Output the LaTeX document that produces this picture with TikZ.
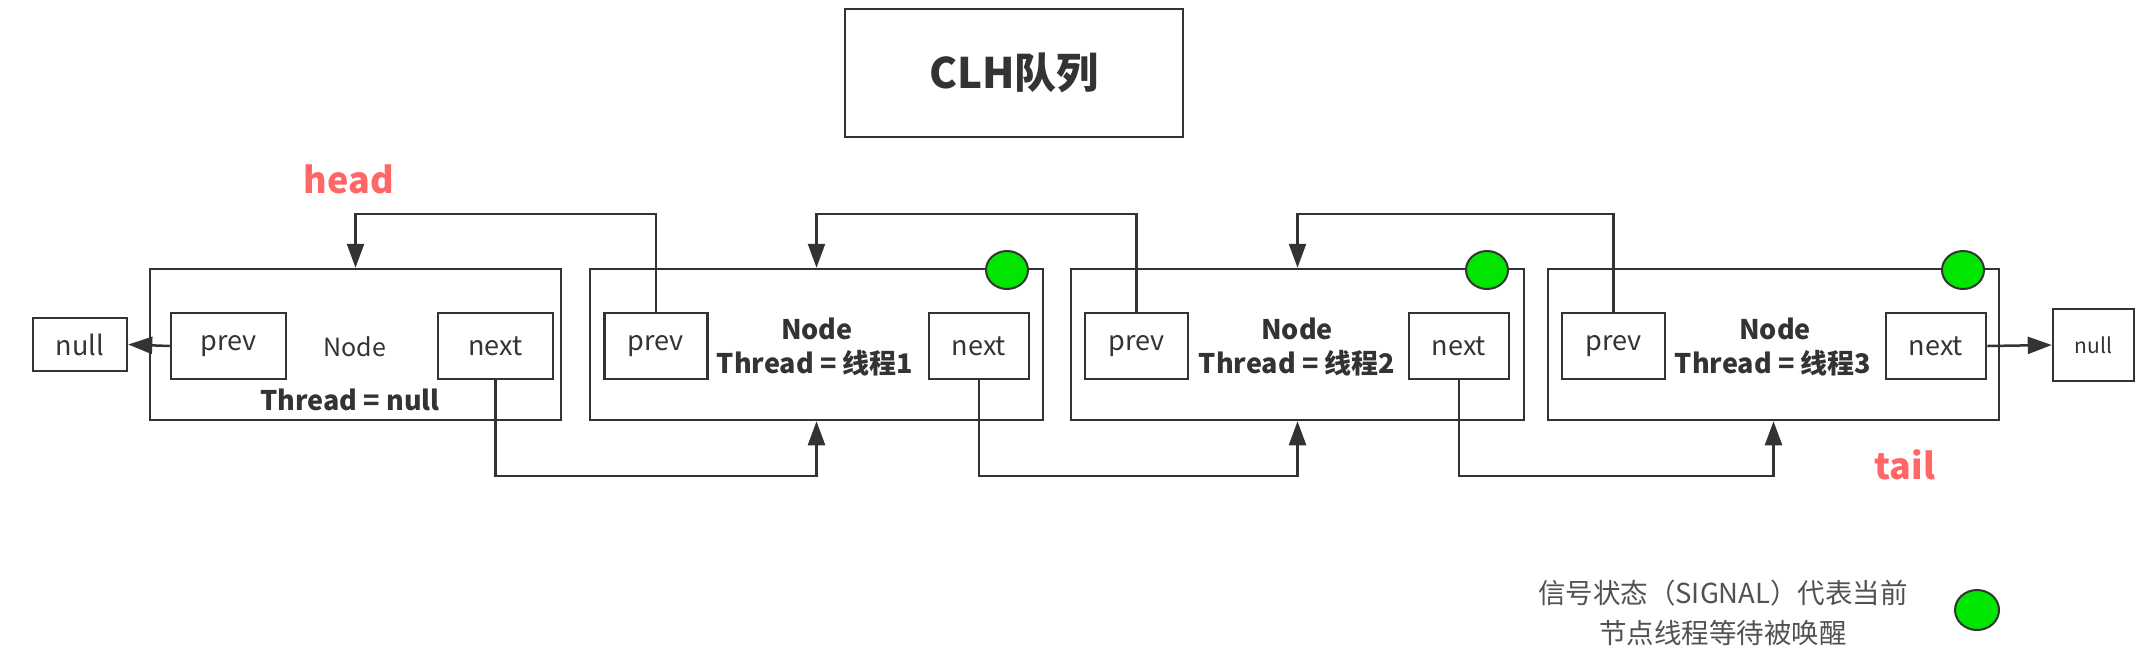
\documentclass[tikz,border=0pt]{standalone}
\usepackage{fontspec}
\setmainfont{Noto Sans CJK SC}
\usetikzlibrary{arrows.meta,shapes.geometric}
\definecolor{ink}{HTML}{333333}
\definecolor{lbl}{HTML}{FF6666}
\definecolor{siggreen}{RGB}{0,230,0}
\tikzset{
  box/.style={draw=ink, line width=2.5pt, rectangle, inner sep=0pt},
  nodebox/.style={box, minimum height=151pt},
  fieldbox/.style={box, minimum height=66pt, text=ink, font=\fontsize{27}{30}\selectfont},
  nullbox/.style={box, text=ink},
  conn/.style={draw=ink, line width=2.5pt, -{Triangle[length=24pt,width=17pt]}},
  sigdot/.style={ellipse, draw=ink, line width=2pt, fill=siggreen, minimum width=42pt, minimum height=38pt, inner sep=0pt},
  btxt/.style={text=ink, inner sep=0pt, font=\fontsize{27}{30}\selectfont\bfseries},
  rtxt/.style={text=ink, inner sep=0pt, font=\fontsize{25}{30}\selectfont},
  redlbl/.style={text=lbl, inner sep=0pt, font=\fontsize{36}{40}\selectfont\bfseries},
  legtxt/.style={text=ink!85, inner sep=0pt, font=\fontsize{27.5}{30}\selectfont},
}
\begin{document}
\begin{tikzpicture}[x=1pt,y=-1pt]
\useasboundingbox (0,0) rectangle (2151,657);
\fill[white] (0,0) rectangle (2151,657);

% title
\node[box, minimum width=338pt, minimum height=128pt, text=ink, font=\fontsize{42}{46}\selectfont\bfseries] (title) at (1014,73) {CLH队列};

% labels
\node[redlbl] (head) at (349,179) {head};
\node[redlbl] (tail) at (1905,465) {tail};

% guide coordinates for the connector rails
\coordinate (toprail) at (0,214);
\coordinate (botrail) at (0,476);

% node boxes
\node[nodebox, minimum width=411pt] (N0) at (355.5,344.5) {};
\node[nodebox, minimum width=453pt] (N1) at (816.5,344.5) {};
\node[nodebox, minimum width=453pt] (N2) at (1297.5,344.5) {};
\node[nodebox, minimum width=451pt] (N3) at (1773.5,344.5) {};

% fields
\node[fieldbox, minimum width=115pt] (p0) at (228.5,346) {prev};
\node[fieldbox, minimum width=115pt] (n0) at (495.5,346) {next};
\node[fieldbox, minimum width=103pt] (p1) at (656,346) {prev};
\node[fieldbox, minimum width=100pt] (n1) at (979,346) {next};
\node[fieldbox, minimum width=103pt] (p2) at (1136.5,346) {prev};
\node[fieldbox, minimum width=100pt] (n2) at (1459,346) {next};
\node[fieldbox, minimum width=103pt] (p3) at (1613.5,346) {prev};
\node[fieldbox, minimum width=100pt] (n3) at (1936,346) {next};

% node texts
\node[rtxt] (t0a) at (355,347) {Node};
\node[btxt] (t0b) at (350,400) {Thread = null};
\node[btxt] (t1a) at (817,329) {Node};
\node[btxt] (t1b) at (815,363) {Thread = 线程1};
\node[btxt] (t2a) at (1297,329) {Node};
\node[btxt] (t2b) at (1297,363) {Thread = 线程2};
\node[btxt] (t3a) at (1775,329) {Node};
\node[btxt] (t3b) at (1773,363) {Thread = 线程3};

% null boxes
\node[nullbox, minimum width=94pt, minimum height=53pt, font=\fontsize{27}{30}\selectfont] (nullL) at (80,344.5) {null};
\node[nullbox, minimum width=81pt, minimum height=72pt, font=\fontsize{21}{24}\selectfont] (nullR) at (2093.5,345) {null};

% signal dots
\node[sigdot] (s1) at (1007,270) {};
\node[sigdot] (s2) at (1487,270) {};
\node[sigdot] (s3) at (1963,270) {};

% connectors
\draw[conn] (p0.west) -- (nullL.east);
\draw[conn] (n3.east) -- (nullR.west);
\draw[conn] (p1.north) -- (p1.north |- toprail) -| (N0.north);
\draw[conn] (p2.north) -- (p2.north |- toprail) -| (N1.north);
\draw[conn] (p3.north) -- (p3.north |- toprail) -| (N2.north);
\draw[conn] (n0.south) -- (n0.south |- botrail) -| (N1.south);
\draw[conn] (n1.south) -- (n1.south |- botrail) -| (N2.south);
\draw[conn] (n2.south) -- (n2.south |- botrail) -| (N3.south);

% legend
\node[legtxt] (leg1) at (1723,593) {信号状态（SIGNAL）代表当前};
\node[legtxt] (leg2) at (1723,633) {节点线程等待被唤醒};
\node[sigdot, minimum width=44pt, minimum height=40pt] (legdot) at (1977,610) {};
\end{tikzpicture}
\end{document}
